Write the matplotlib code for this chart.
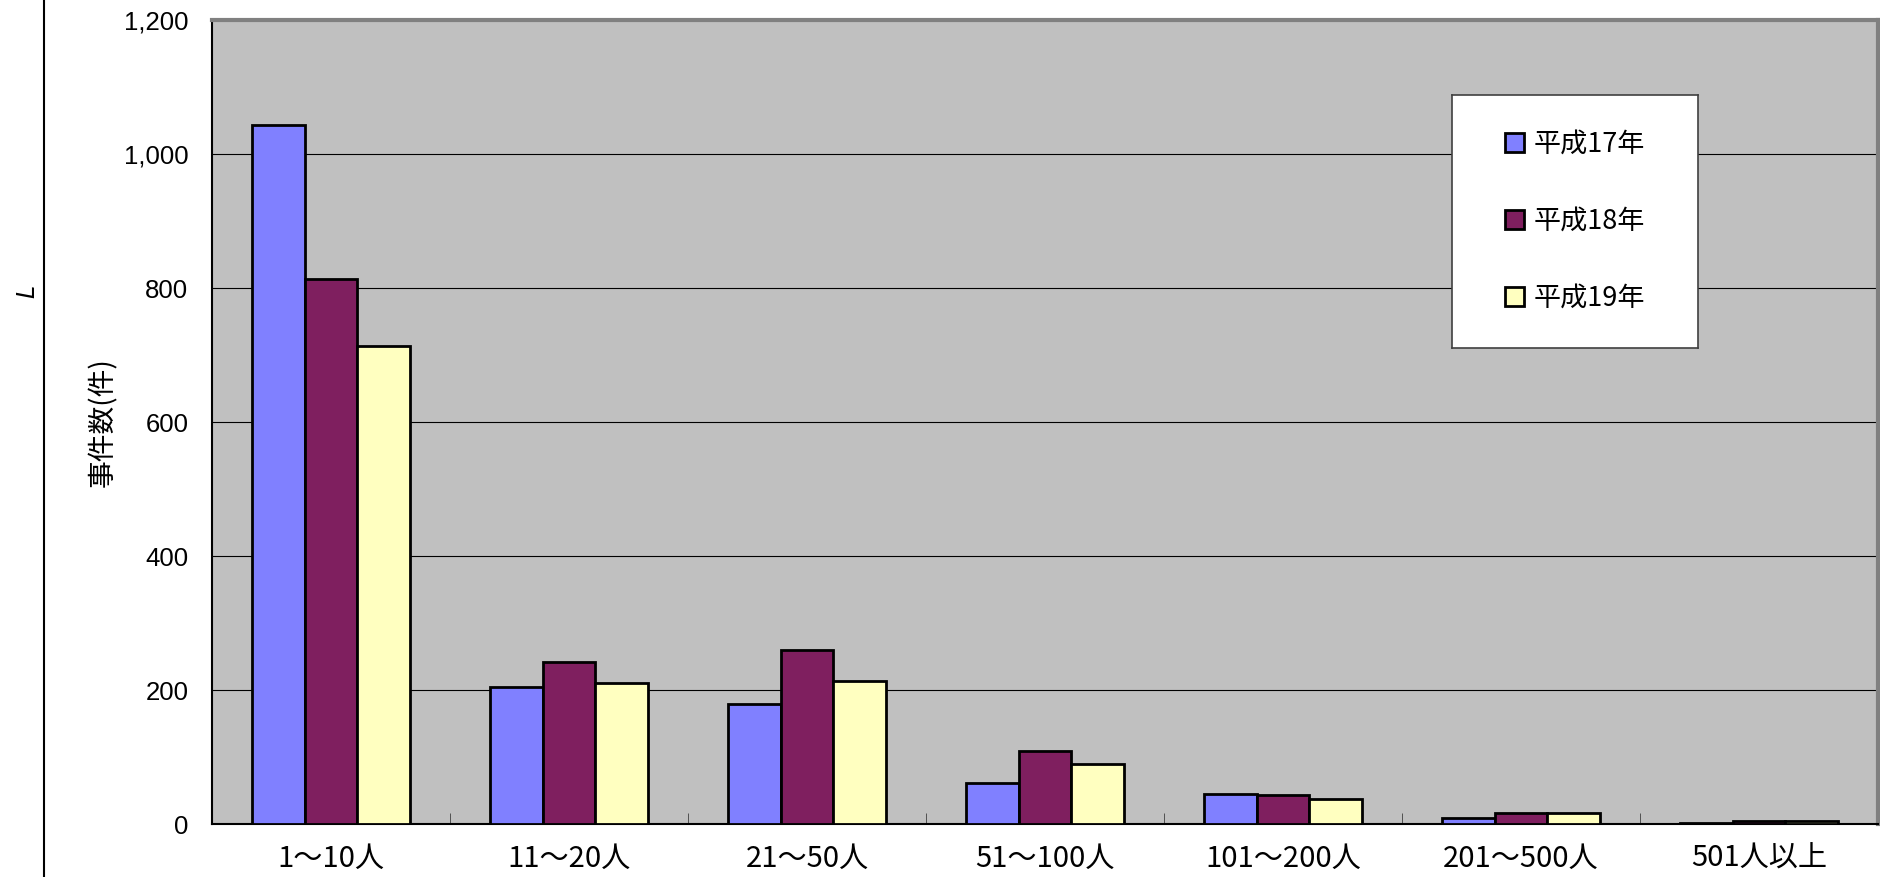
import matplotlib.pyplot as plt
import numpy as np

plt.rcParams['font.family'] = ['Noto Sans CJK JP', 'DejaVu Sans']

categories = ['1～10人', '11～20人', '21～50人', '51～100人', '101～200人', '201～500人', '501人以上']
series = ['平成17年', '平成18年', '平成19年']
h17 = [1044, 204, 179, 61, 45, 9, 2]
h18 = [813, 242, 260, 109, 44, 16, 5]
h19 = [713, 210, 213, 90, 38, 16, 4]
colors = ['#8080FF', '#7F1F5F', '#FFFFC0']

fig = plt.figure(figsize=(18.81, 8.77), dpi=100)
ax = fig.add_axes([0.1127, 0.0604, 0.8857, 0.9168])
ax.set_facecolor('#C0C0C0')

x = np.arange(len(categories))
w = 1 / 4.5
bars = []
for i, (vals, name) in enumerate(zip([h17, h18, h19], series)):
    b = ax.bar(x + (i - 1) * w, vals, w, color=colors[i], edgecolor='black',
               linewidth=2, label=name, zorder=3)
    bars.append(b)

ax.set_xlim(-0.5, len(categories) - 0.5)
ax.set_ylim(0, 1200)
ax.set_yticks(range(0, 1201, 200))
ax.set_yticklabels(['{:,}'.format(v) for v in range(0, 1201, 200)],
                   family=['Liberation Sans', 'DejaVu Sans'])
ax.yaxis.grid(True, color='black', linewidth=0.8, zorder=1)
ax.tick_params(axis='y', length=0, labelsize=18.5, pad=17)

ax.set_xticks(x)
ax.set_xticklabels(categories)
ax.set_xticks(np.arange(0.5, len(categories) - 1, 1), minor=True)
ax.tick_params(axis='x', which='major', length=0, labelsize=21, pad=14)
ax.tick_params(axis='x', which='minor', direction='in', length=8, color='#404040')

for s in ['left', 'bottom']:
    ax.spines[s].set_color('black')
    ax.spines[s].set_linewidth(1.5)
for s in ['top', 'right']:
    ax.spines[s].set_color('#808080')
    ax.spines[s].set_linewidth(3)

ax.set_ylabel('事件数(件)', fontsize=20)
ax.yaxis.set_label_coords(-0.0564, 0.5)

# legend box
lax = fig.add_axes([1452 / 1881, 1 - 348 / 877, 246 / 1881, 253 / 877])
lax.set_xticks([])
lax.set_yticks([])
lax.set_facecolor('white')
for s in lax.spines.values():
    s.set_color('#404040')
    s.set_linewidth(1.2)
leg = lax.legend(bars, series, loc='center', fontsize=19.5, frameon=False,
                 handlelength=0.7, handleheight=0.7, handletextpad=0.35,
                 labelspacing=1.85, borderpad=0)

fig.add_artist(plt.Line2D([44 / 1881, 44 / 1881], [0, 1], color='black', linewidth=1.5))
fig.text(27 / 1881, 1 - 291 / 877, 'L', rotation=90, fontsize=17, style='italic',
         ha='center', va='center', family=['DejaVu Sans'])

fig.savefig('out.png', dpi=100)
